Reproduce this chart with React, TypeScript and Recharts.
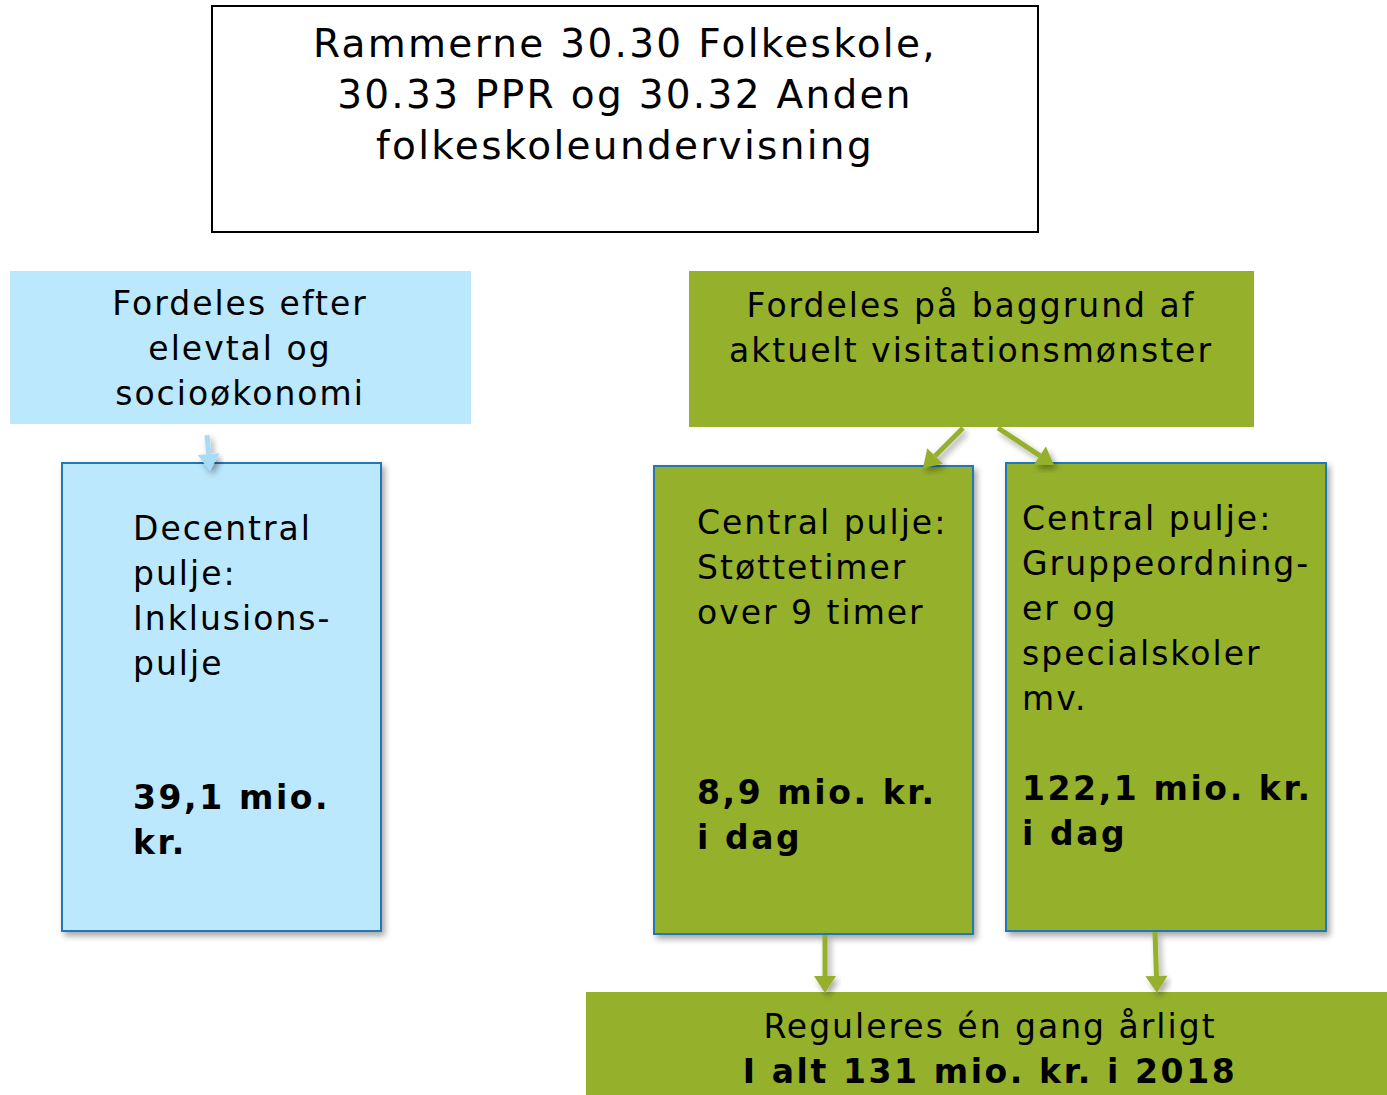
import { ComposedChart, XAxis, YAxis, ReferenceArea, ReferenceLine } from "recharts";

// diagram text and amounts
const titleLines = ["Rammerne 30.30 Folkeskole,", " 30.33 PPR og 30.32 Anden", "folkeskoleundervisning"];
const decentralHeader = ["Fordeles efter", "elevtal og", "socioøkonomi"];
const centralHeader = ["Fordeles på baggrund af", "aktuelt visitationsmønster"];
const poolNames = ["Decentral pulje:", "Central pulje:", "Central pulje:"];
const poolTopics = [["Inklusions-", "pulje"], ["Støttetimer", "over 9 timer"], ["Gruppeordning-", "er og", "specialskoler", "mv."]];
const poolAmounts = [39.1, 8.9, 122.1];
const poolSuffix = ["", "i dag", "i dag"];
const totalAmount = 131;
const budgetYear = 2018;
const regulationText = "Reguleres én gang årligt";

const W = 1387;
const H = 1095;
const FONT = "'DejaVu Sans', Verdana, sans-serif";
const LIGHT = "#BBE8FD";
const GREEN = "#95B02B";
const EDGE = "#2177B5";

const fmt = (v: number) => (Number.isInteger(v) ? String(v) : v.toFixed(1).replace(".", ","));

type Line = { t: string; bold?: boolean };
type Box = {
  x1: number; x2: number; y1: number; y2: number;
  fill: string; stroke: string; sw: number; shadow?: boolean;
  anchor: "start" | "middle"; tx: number; ty: number; lh: number; fs: number; ls: number;
  lines: Line[]; gap?: number; extra?: Line[];
};

const plain = (arr: string[]): Line[] => arr.map((t) => ({ t }));

const decentralLines = plain(["Decentral", "pulje:", ...poolTopics[0]]);

const boxes: Box[] = [
  { x1: 212, x2: 1038, y1: 6, y2: 232, fill: "#fff", stroke: "#000", sw: 2, anchor: "middle", tx: 625, ty: 43, lh: 51, fs: 39, ls: 2.3, lines: plain(titleLines) },
  { x1: 10, x2: 471, y1: 271, y2: 424, fill: LIGHT, stroke: "none", sw: 0, anchor: "middle", tx: 240, ty: 303, lh: 45, fs: 33, ls: 2, lines: plain(decentralHeader) },
  { x1: 689, x2: 1254, y1: 271, y2: 427, fill: GREEN, stroke: "none", sw: 0, anchor: "middle", tx: 971, ty: 305, lh: 45, fs: 33, ls: 2, lines: plain(centralHeader) },
  {
    x1: 62, x2: 381, y1: 463, y2: 931, fill: LIGHT, stroke: EDGE, sw: 2, shadow: true, anchor: "start", tx: 133, ty: 528, lh: 45, fs: 33, ls: 2,
    lines: decentralLines, gap: 797, extra: [{ t: `${fmt(poolAmounts[0])} mio.`, bold: true }, { t: "kr.", bold: true }],
  },
  {
    x1: 654, x2: 973, y1: 466, y2: 934, fill: GREEN, stroke: EDGE, sw: 2, shadow: true, anchor: "start", tx: 697, ty: 522, lh: 45, fs: 33, ls: 2,
    lines: plain([poolNames[1], ...poolTopics[1]]), gap: 792, extra: [{ t: `${fmt(poolAmounts[1])} mio. kr.`, bold: true }, { t: poolSuffix[1], bold: true }],
  },
  {
    x1: 1006, x2: 1326, y1: 463, y2: 931, fill: GREEN, stroke: EDGE, sw: 2, shadow: true, anchor: "start", tx: 1022, ty: 518, lh: 45, fs: 33, ls: 2,
    lines: plain([poolNames[2], ...poolTopics[2]]), gap: 788, extra: [{ t: `${fmt(poolAmounts[2])} mio. kr.`, bold: true }, { t: poolSuffix[2], bold: true }],
  },
  {
    x1: 586, x2: 1387, y1: 992, y2: 1095, fill: GREEN, stroke: "none", sw: 0, anchor: "middle", tx: 990, ty: 1026, lh: 45, fs: 33, ls: 2,
    lines: [{ t: regulationText }, { t: `I alt ${fmt(totalAmount)} mio. kr. i ${budgetYear}`, bold: true }],
  },
];

const arrows = [
  { from: [207, 435], to: [210, 471], color: "#A8DCF4" },
  { from: [963, 428], to: [923, 468], color: GREEN },
  { from: [998, 428], to: [1054, 465], color: GREEN },
  { from: [825, 935], to: [825, 993], color: GREEN },
  { from: [1155, 932], to: [1157, 993], color: GREEN },
];

const renderBox = (b: Box) => (props: any) => {
  const { x, y, width, height } = props;
  const dx = x - b.x1;
  const dy = y - b.y1;
  const txt = (l: Line, i: number, yy: number) => (
    <text key={i} x={b.tx + dx} y={yy + dy} textAnchor={b.anchor} dominantBaseline="central"
      fontFamily={FONT} fontSize={b.fs} fontWeight={l.bold ? 700 : 400} fill="#000"
      letterSpacing={l.bold ? b.ls + 0.6 : b.ls}>
      {l.t}
    </text>
  );
  return (
    <g>
      <defs>
        <filter id="shd" x="-10%" y="-10%" width="130%" height="130%">
          <feDropShadow dx="3" dy="4" stdDeviation="3" floodColor="#000" floodOpacity="0.35" />
        </filter>
      </defs>
      <rect x={x} y={y} width={width} height={height} fill={b.fill} stroke={b.stroke}
        strokeWidth={b.sw} filter={b.shadow ? "url(#shd)" : undefined} />
      {b.lines.map((l, i) => txt(l, i, b.ty + i * b.lh))}
      {b.extra && b.extra.map((l, i) => txt(l, 100 + i, (b.gap as number) + i * b.lh))}
    </g>
  );
};

const renderArrow = (color: string) => (props: any) => {
  const { x1, y1, x2, y2 } = props;
  const ang = Math.atan2(y2 - y1, x2 - x1);
  const hl = 17;
  const hw = 11;
  const bx = x2 - hl * Math.cos(ang);
  const by = y2 - hl * Math.sin(ang);
  const px = -Math.sin(ang) * hw;
  const py = Math.cos(ang) * hw;
  return (
    <g filter="url(#shd)">
      <line x1={x1} y1={y1} x2={bx} y2={by} stroke={color} strokeWidth={5} />
      <polygon points={`${x2},${y2} ${bx + px},${by + py} ${bx - px},${by - py}`} fill={color} />
    </g>
  );
};

export default function App() {
  return (
    <div style={{ position: "absolute", left: 0, top: 0, background: "#fff" }}>
      <ComposedChart width={W} height={H} data={[]} margin={{ top: 0, right: 0, bottom: 0, left: 0 }}>
        <XAxis type="number" dataKey="x" domain={[0, W]} hide allowDataOverflow />
        <YAxis type="number" dataKey="y" domain={[0, H]} reversed hide allowDataOverflow />
        {boxes.map((b, i) => (
          <ReferenceArea key={i} x1={b.x1} x2={b.x2} y1={b.y1} y2={b.y2} ifOverflow="visible" shape={renderBox(b)} />
        ))}
        {arrows.map((a, i) => (
          <ReferenceLine key={`a${i}`} ifOverflow="visible"
            segment={[{ x: a.from[0], y: a.from[1] }, { x: a.to[0], y: a.to[1] }]}
            shape={renderArrow(a.color)} />
        ))}
      </ComposedChart>
    </div>
  );
}
